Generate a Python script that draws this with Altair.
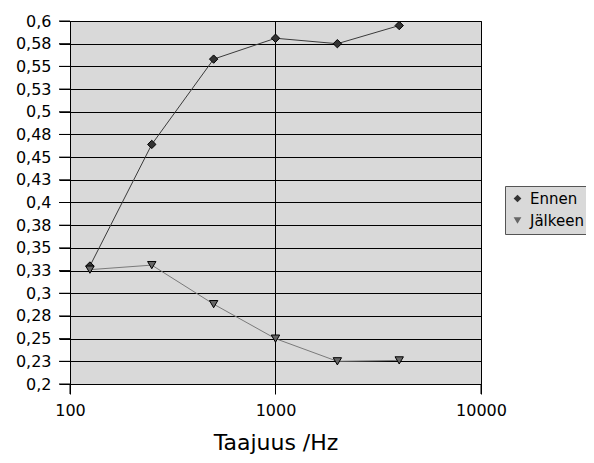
import altair as alt
import pandas as pd

freqs = [125, 250, 500, 1000, 2000, 4000]
ennen = [0.330, 0.464, 0.558, 0.581, 0.575, 0.595]
jalkeen = [0.326, 0.331, 0.288, 0.250, 0.225, 0.226]
series_names = ["Ennen", "Jälkeen"]
y_ticks = [0.2, 0.225, 0.25, 0.275, 0.3, 0.325, 0.35, 0.375, 0.4,
           0.425, 0.45, 0.475, 0.5, 0.525, 0.55, 0.575, 0.6]
y_labels = ["0,2", "0,23", "0,25", "0,28", "0,3", "0,33", "0,35", "0,38", "0,4",
            "0,43", "0,45", "0,48", "0,5", "0,53", "0,55", "0,58", "0,6"]
x_ticks = [100, 1000, 10000]

rows = []
for f, v in zip(freqs, ennen):
    rows.append({"f": f, "v": v, "s": "Ennen"})
for f, v in zip(freqs, jalkeen):
    rows.append({"f": f, "v": v, "s": "Jälkeen"})
df = pd.DataFrame(rows)
ytick_df = pd.DataFrame({"v": y_ticks})
xtick_df = pd.DataFrame({"f": x_ticks})

label_arr = "[" + ",".join("'" + l + "'" for l in y_labels) + "]"
font = "DejaVu Sans"

xscale = alt.Scale(type="log", domain=[100, 10000])
yscale = alt.Scale(domain=[0.2, 0.6])

x = alt.X("f:Q", scale=xscale,
          axis=alt.Axis(values=x_ticks, format="d", title="Taajuus /Hz",
                        grid=True, gridColor="black", gridOpacity=1,
                        ticks=True, tickSize=10, tickColor="black",
                        domainColor="black",
                        labelFontSize=16, titleFontSize=22, titleFontWeight="normal",
                        labelPadding=8, titlePadding=14, labelFont=font, titleFont=font,
                        labelColor="black", titleColor="black", labelFlush=False))
y = alt.Y("v:Q", scale=yscale,
          axis=alt.Axis(values=y_ticks, title=None,
                        labelExpr=label_arr + "[round((datum.value-0.2)/0.025)]",
                        grid=True, gridColor="black", gridOpacity=1,
                        ticks=True, tickSize=11, tickColor="black",
                        domainColor="black",
                        labelFontSize=16, labelPadding=8, labelFont=font,
                        labelColor="black", labelFlush=False, labelOverlap=False))

legend = alt.Legend(title=None, orient="none", legendX=435, legendY=165,
                    fillColor="#d9d9d9", strokeColor="#555555", padding=5,
                    labelFontSize=15, labelFont=font, labelColor="black",
                    symbolSize=60, symbolStrokeColor="black", symbolStrokeWidth=1,
                    symbolOpacity=1, rowPadding=6, labelOffset=5)

base = alt.Chart(df)
line_e = base.transform_filter(alt.datum.s == "Ennen").mark_line(
    strokeWidth=1, color="#3a3a3a").encode(x=x, y=y)
line_j = base.transform_filter(alt.datum.s == "Jälkeen").mark_line(
    strokeWidth=1, color="#7a7a7a").encode(x=x, y=y)
points = base.mark_point(filled=True, size=70, opacity=1, stroke="black", strokeWidth=1).encode(
    x=x, y=y,
    shape=alt.Shape("s:N", scale=alt.Scale(domain=series_names, range=["diamond", "triangle-down"]),
                    legend=legend),
    fill=alt.Fill("s:N", scale=alt.Scale(domain=series_names, range=["#333333", "#666666"]),
                  legend=legend),
)

yticks = alt.Chart(ytick_df).mark_rule(color="black", strokeWidth=1).encode(
    y=y, x=alt.value(-11), x2=alt.value(0))
xticks = alt.Chart(xtick_df).mark_rule(color="black", strokeWidth=1).encode(
    x=x, y=alt.value(363), y2=alt.value(373))

chart = alt.layer(line_e, line_j, points, yticks, xticks).properties(
    width=411, height=363,
    autosize=alt.AutoSizeParams(type="none"),
    padding={"left": 62, "top": 13, "right": 105, "bottom": 71},
).configure_view(
    fill="#d9d9d9", stroke="#333333", strokeWidth=1
)

chart.save("out.html", embed_options={"renderer": "svg", "actions": False})
